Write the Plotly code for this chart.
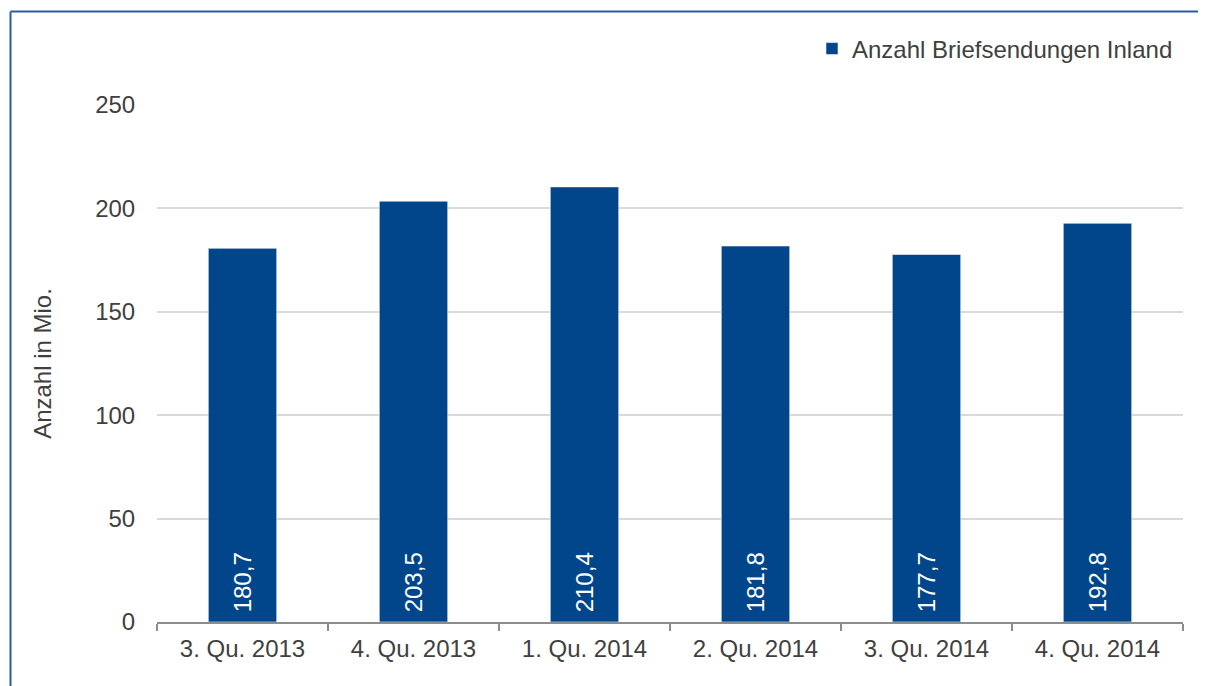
import plotly.graph_objects as go

categories = ["3. Qu. 2013", "4. Qu. 2013", "1. Qu. 2014", "2. Qu. 2014", "3. Qu. 2014", "4. Qu. 2014"]
values = [180.7, 203.5, 210.4, 181.8, 177.7, 192.8]
series_name = "Anzahl Briefsendungen Inland"
y_title = "Anzahl in Mio."
y_ticks = [0, 50, 100, 150, 200, 250]

BAR = "#01468B"
TXT = "#404040"
FONT = "Liberation Sans, Arial, sans-serif"
FS = 24

fig = go.Figure()
fig.add_trace(go.Bar(
    x=categories, y=values, name=series_name,
    marker=dict(color=BAR, line=dict(color="rgba(255,255,255,0.55)", width=1)),
    width=0.4,
    texttemplate="\u00a0%{y:.1f}", textposition="inside", insidetextanchor="start",
    textangle=-90, textfont=dict(color="white", size=FS, family=FONT),
    showlegend=True,
))

# page has an 8px body offset; figure sized to fit the window
OFF = 8
W, H = 1206 - OFF, 686 - OFF
L, T = 157 - OFF, 105 - OFF
pw, ph = 1026, 517
R, B = W - L - pw, H - T - ph

def px_x(p):  # screenshot px -> paper
    return (p - OFF - L) / pw

def px_y(p):
    return (T + ph - (p - OFF)) / ph

bx, by = px_x(10.5), px_y(11.5)
fig.add_shape(type="line", xref="paper", yref="paper", x0=bx, x1=px_x(1230), y0=by, y1=by,
              line=dict(color="#2A5D9F", width=2))
fig.add_shape(type="line", xref="paper", yref="paper", x0=bx, x1=bx, y0=by, y1=px_y(710),
              line=dict(color="#2A5D9F", width=2))

fig.update_layout(
    width=W, height=H,
    margin=dict(l=L, r=R, t=T, b=B, autoexpand=False),
    paper_bgcolor="white", plot_bgcolor="white",
    separators=",.",
    font=dict(family=FONT, size=FS, color=TXT),
    legend=dict(x=px_x(1178), xanchor="right", y=px_y(49), yanchor="middle",
                font=dict(size=FS, color=TXT), bgcolor="rgba(0,0,0,0)",
                itemwidth=30),
    xaxis=dict(
        type="category", tickson="boundaries", ticks="outside", ticklen=7,
        tickcolor="#8C8C8C", tickwidth=2, showline=True, linecolor="#8C8C8C",
        linewidth=2, showgrid=False, tickfont=dict(size=FS, color=TXT),
        ticklabelstandoff=4,
    ),
    yaxis=dict(
        range=[0, 250], tickvals=y_ticks, showgrid=True, gridcolor="#D9D9D9",
        gridwidth=1.5, zeroline=False, showline=False, ticks="outside", ticklen=16,
        tickcolor="rgba(0,0,0,0)", tickfont=dict(size=FS, color=TXT),
        title=dict(text=y_title, font=dict(size=FS, color=TXT), standoff=36),
    ),
)

fig.write_html("out.html")
